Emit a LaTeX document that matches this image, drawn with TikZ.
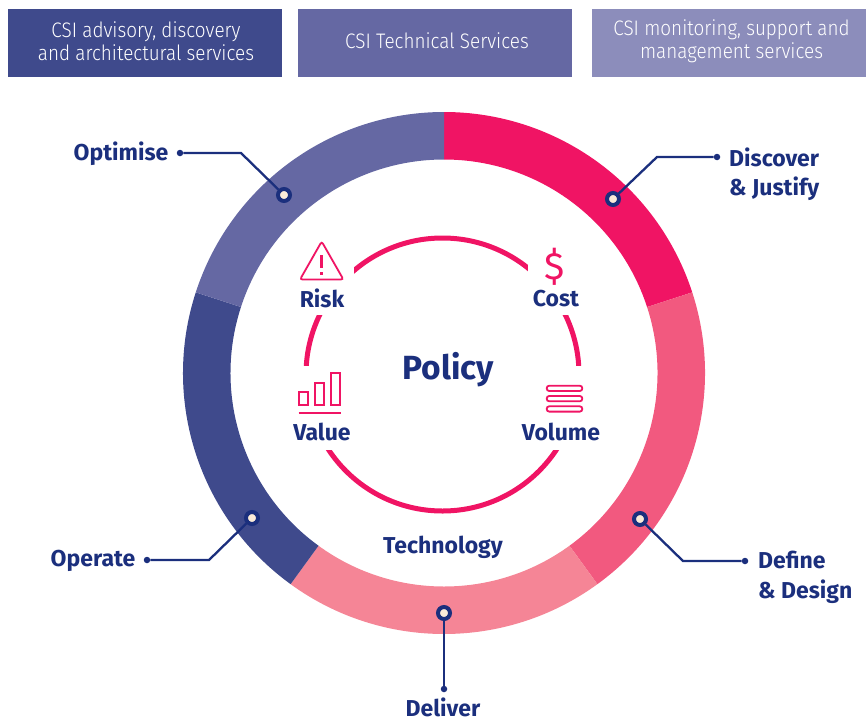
\documentclass[tikz,border=0pt]{standalone}
\usepackage{fontspec}
\setmainfont{Fira Sans}
\newfontfamily\lightfont{Fira Sans Light}
\newfontfamily\hdrfont[FakeStretch=0.9]{Fira Sans Light}
\definecolor{navy}{HTML}{1B2F7D}
\definecolor{segA}{HTML}{F01464}
\definecolor{segB}{HTML}{F2597F}
\definecolor{segC}{HTML}{F58596}
\definecolor{segD}{HTML}{3F4A8C}
\definecolor{segE}{HTML}{6568A3}
\definecolor{segF}{HTML}{8C8DBB}
\definecolor{cream}{HTML}{FBEBD8}
\tikzset{
  x=1pt,y=1pt,
  hdrbox/.style={minimum height=68pt,minimum width=274pt,inner sep=0pt},
  hdr/.style={inner sep=0pt,text=white,align=center,font=\fontsize{21}{23.5}\selectfont\hdrfont},
  lbl/.style={text=navy,inner sep=0pt,font=\fontsize{23}{30}\selectfont\bfseries},
  leader/.style={draw=navy,line width=2.3pt},
  ringdot/.style={circle,draw=navy,fill=cream,line width=4pt,minimum size=12pt,inner sep=0pt},
  enddot/.style={circle,fill=navy,minimum size=6.5pt,inner sep=0pt},
  icon/.style={draw=segA,line width=1.8pt},
}
\newcommand{\ringseg}[3]{\fill[#3] ([shift={(#1:261)}]444,-373) arc[start angle=#1,end angle=#2,radius=261] -- ([shift={(#2:213.5)}]444,-373) arc[start angle=#2,end angle=#1,radius=213.5] -- cycle;}
\begin{document}
\begin{tikzpicture}
\useasboundingbox (0,0) rectangle (866,-720);
% header
\node[hdrbox,fill=segD] (h1) at (145,-43) {};
\node[hdrbox,fill=segE] (h2) at (435,-43) {};
\node[hdrbox,fill=segF] (h3) at (729,-43) {};
\node[hdr] (t1) at ([xshift=1pt,yshift=2pt]h1.center) {CSI advisory, discovery\\and architectural services};
\node[hdr] (t2) at ([xshift=2pt,yshift=2pt]h2.center) {CSI Technical Services};
\node[hdr] (t3) at ([xshift=2.5pt,yshift=2pt]h3.center) {CSI monitoring, support and\\management services};
% outer ring
\ringseg{90}{18}{segA}
\ringseg{18}{-54}{segB}
\ringseg{-54}{-126}{segC}
\ringseg{-126}{-198}{segD}
\ringseg{162}{90}{segE}
% inner ring with gaps
\draw[segA,line width=5pt] (442.5,-374.5) circle[radius=136.5];
\fill[white] (295,-232) rectangle (354,-315);
\fill[white] (528,-232) rectangle (592,-315);
\fill[white] (290,-366) rectangle (354,-450);
\fill[white] (530,-366) rectangle (600,-450);
% icons
\draw[icon,rounded corners=2.5pt] (321.7,-241.5) -- (300,-279.5) -- (343.4,-279.5) -- cycle;
\fill[segA] (320.2,-255) rectangle (323.2,-268);
\fill[segA] (320.2,-271.5) rectangle (323.2,-274.5);
\node[text=segA,inner sep=0pt,font=\fontsize{38}{38}\selectfont] (dollar) at (555,-267) {\$};
\draw[icon] (299,-392) rectangle (308.3,-405);
\draw[icon] (315,-382.7) rectangle (324.3,-405);
\draw[icon] (330.7,-372.7) rectangle (340.3,-405);
\draw[icon] (298.7,-413) -- (341,-413);
\draw[icon,rounded corners=2.5pt] (546.7,-385.7) rectangle (582.3,-391);
\draw[icon,rounded corners=2.5pt] (546.7,-396) rectangle (582.3,-401.3);
\draw[icon,rounded corners=2.5pt] (546.7,-406.3) rectangle (582.3,-411.6);
% inner texts
\node[lbl,font=\fontsize{33.5}{36}\selectfont\bfseries] (policy) at (448.5,-370) {Policy};
\node[lbl] (risk) at (322,-298) {Risk};
\node[lbl] (cost) at (556,-299) {Cost};
\node[lbl] (value) at (322,-432) {Value};
\node[lbl] (volume) at (561,-432) {Volume};
\node[lbl] (tech) at (443,-547) {Technology};
% outer labels
\node[lbl,anchor=west] (disc) at (729,-157) {Discover};
\node[lbl,anchor=west] (just) at (729,-189) {\& Justify};
\node[lbl,anchor=west] (defi) at (758,-560) {Define};
\node[lbl,anchor=west] (desi) at (758,-592) {\& Design};
\node[lbl] (opti) at (121,-154) {Optimise};
\node[lbl] (oper) at (93,-561) {Operate};
\node[lbl] (deli) at (443,-707.5) {Deliver};
% connectors
\node[enddot] (e1) at (717,-157) {};
\node[enddot] (e2) at (745,-561) {};
\node[enddot] (e3) at (444,-689) {};
\node[enddot] (e4) at (147,-560) {};
\node[enddot] (e5) at (180,-153) {};
\coordinate (b1) at (657,-157);
\coordinate (b2) at (683,-561);
\coordinate (b4) at (209,-560);
\coordinate (b5) at (241,-153);
\node[ringdot] (r1) at (613,-199) {};
\node[ringdot] (r2) at (640,-519) {};
\node[ringdot] (r3) at (444,-613) {};
\node[ringdot] (r4) at (252,-518) {};
\node[ringdot] (r5) at (284,-195) {};
\draw[leader] (r1) -- (b1) -- (e1);
\draw[leader] (r2) -- (b2) -- (e2);
\draw[leader] (r3) -- (e3);
\draw[leader] (r4) -- (b4) -- (e4);
\draw[leader] (r5) -- (b5) -- (e5);
\end{tikzpicture}
\end{document}
